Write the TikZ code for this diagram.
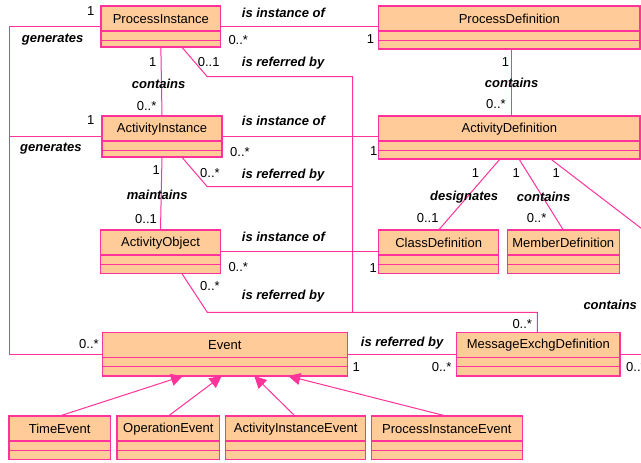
\documentclass[tikz,border=0pt]{standalone}
\usepackage{fontspec}
\setmainfont{Liberation Sans}
\usetikzlibrary{calc,arrows.meta}
\definecolor{umlpink}{RGB}{255,51,153}
\definecolor{umlfill}{RGB}{255,204,153}
\newcommand\umlclass[6]{%
  \node[clsbox, minimum width={#4pt-#2pt}, minimum height={#5pt-#3pt}, anchor=north west] (#1) at (#2,#3) {};
  \draw[clsborder] ($(#1.north west)+(0,25)$) -- ($(#1.north east)+(0,25)$);
  \draw[clsborder] ($(#1.north west)+(0,34.5)$) -- ($(#1.north east)+(0,34.5)$);
  \node[clsname] (#1-name) at ($(#1.north)+(0,12.8)$) {#6};
}
\begin{document}
\begin{tikzpicture}[x=1pt,y=-1pt,
  clsbox/.style={draw=umlpink, fill=umlfill, line width=1.4pt, inner sep=0pt, outer sep=0pt, rectangle},
  clsborder/.style={draw=umlpink, line width=1.2pt},
  clsname/.style={font=\fontsize{13}{15}\selectfont, inner sep=0pt},
  assoc/.style={draw=umlpink, line width=1pt},
  role/.style={font=\fontsize{13}{15}\selectfont\bfseries\itshape, inner sep=0pt, anchor=west},
  mult/.style={font=\fontsize{13}{15}\selectfont, inner sep=0pt, anchor=west},
  gen/.style={draw=umlpink, line width=1pt, -{Triangle[length=12pt,width=12pt]}}]
\clip (0,0) rectangle (641,463);
\fill[white] (0,0) rectangle (641,463);
\coordinate (lft) at (9,0);
\coordinate (rgt) at (650,0);
% classes
\umlclass{pi}{101}{6}{220.7}{47}{ProcessInstance}
\umlclass{pd}{378.7}{6}{640}{49}{ProcessDefinition}
\umlclass{ai}{102}{116}{222}{157}{ActivityInstance}
\umlclass{ad}{378.7}{116}{640}{159}{ActivityDefinition}
\umlclass{ao}{100.3}{230}{220.7}{273.3}{ActivityObject}
\umlclass{cd}{378.7}{230}{498.7}{273.3}{ClassDefinition}
\umlclass{md}{507.3}{230}{619.3}{273.3}{MemberDefinition}
\umlclass{ev}{102.3}{332.3}{347.3}{376}{Event}
\umlclass{mx}{456.7}{332.3}{620}{376}{MessageExchgDefinition}
\umlclass{te}{9}{416}{110.3}{459.3}{TimeEvent}
\umlclass{oe}{117}{416}{219.7}{459.3}{OperationEvent}
\umlclass{aie}{225.7}{416}{365.7}{459.3}{ActivityInstanceEvent}
\umlclass{pie}{371.3}{416}{522.3}{459.3}{ProcessInstanceEvent}
% associations
\draw[assoc] (pi.west) -- (pi.west -| lft) -- (ev.west -| lft) -- (ev.west);
\draw[assoc] (ai.west) -- (ai.west -| lft);
\draw[assoc] (pi.east) -- (pi.east -| pd.west);
\draw[assoc] (ai.east) -- (ai.east -| ad.west);
\draw[assoc] (ao.east) -- (ao.east -| cd.west);
\draw[assoc] (ev.east) -- (ev.east -| mx.west);
\draw[assoc] (mx.east) -- (mx.east -| rgt);
\draw[assoc] (pi.south) -- (ai.north);
\draw[assoc] (ai.south) -- (ao.north);
\draw[assoc] ($(pd.south)+(2,0)$) -- ($(ad.north)+(2,0)$);
\draw[assoc] ($(ad.south west)+(121.3,0)$) -- (cd.north);
\draw[assoc] ($(ad.south west)+(140.3,0)$) -- (md.north);
\coordinate (offr) at (680,258);
\draw[assoc] ($(ad.south west)+(172,0)$) -- (offr);
% is referred by network
\coordinate (j1) at (207.3,76.7);
\coordinate (j2) at (352.5,76.7);
\coordinate (j3) at (352.5,312.3);
\coordinate (j4) at (207.3,186.7);
\coordinate (j5) at (352.5,186.7);
\coordinate (j6) at (207.3,312.3);
\coordinate (j7) at (537.3,312.3);
\draw[assoc] ($(pi.south west)+(80.7,0)$) -- (j1) -- (j2) -- (j3);
\draw[assoc] ($(ai.south west)+(79.7,0)$) -- (j4) -- (j5);
\draw[assoc] ($(ao.south west)+(81.4,0)$) -- (j6) -- (j7) -- (j7 |- mx.north);
% generalizations
\draw[gen] (te.north) -- ($(ev.south west)+(80.7,0)$);
\draw[gen] (oe.north) -- ($(ev.south west)+(119.4,0)$);
\draw[gen] ($(aie.north west)+(69.3,0)$) -- ($(ev.south west)+(152,0)$);
\draw[gen] ($(pie.north west)+(74.7,0)$) -- ($(ev.south west)+(186,0)$);
% role labels
\node[role] (r1) at (21.7,40) {generates};
\node[role] (r2) at (241.7,12.7) {is instance of};
\node[role] (r3) at (241.7,62.7) {is referred by};
\node[role] (r4) at (131.7,84.3) {contains};
\node[role] (r5) at (241.7,120.7) {is instance of};
\node[role] (r6) at (20,148.3) {generates};
\node[role] (r7) at (484.7,83.3) {contains};
\node[role] (r8) at (241.7,175) {is referred by};
\node[role] (r9) at (126.7,195) {maintains};
\node[role] (r10) at (430,196.7) {designates};
\node[role] (r11) at (516.7,196.7) {contains};
\node[role] (r12) at (241.7,236.7) {is instance of};
\node[role] (r13) at (241.7,295.7) {is referred by};
\node[role] (r14) at (583.3,305) {contains};
\node[role] (r15) at (360.7,342.7) {is referred by};
% multiplicities
\node[mult] (m1) at (87,11) {1};
\node[mult] (m2) at (228.3,40) {0..*};
\node[mult] (m3) at (366.7,39.3) {1};
\node[mult] (m4) at (149,61.7) {1};
\node[mult] (m5) at (197.7,61.7) {0..1};
\node[mult] (m6) at (136.7,106) {0..*};
\node[mult] (m7) at (87,120) {1};
\node[mult] (m8) at (230,151.7) {0..*};
\node[mult] (m9) at (501.7,61.7) {1};
\node[mult] (m10) at (486,104) {0..*};
\node[mult] (m11) at (370,150.7) {1};
\node[mult] (m12) at (152.3,170) {1};
\node[mult] (m13) at (200,173.3) {0..*};
\node[mult] (m14) at (135,219.3) {0..1};
\node[mult] (m15) at (228.3,266.7) {0..*};
\node[mult] (m16) at (200,286) {0..*};
\node[mult] (m17) at (471.7,173.3) {1};
\node[mult] (m18) at (512.3,173.3) {1};
\node[mult] (m19) at (552.3,173.3) {1};
\node[mult] (m20) at (416.7,218.3) {0..1};
\node[mult] (m21) at (526.7,218.3) {0..*};
\node[mult] (m22) at (369.3,268.3) {1};
\node[mult] (m23) at (79,344.3) {0..*};
\node[mult] (m24) at (512.3,324) {0..*};
\node[mult] (m25) at (352.3,366.7) {1};
\node[mult] (m26) at (431.7,366.7) {0..*};
\node[mult] (m27) at (626,366.7) {0..*};
\end{tikzpicture}
\end{document}
